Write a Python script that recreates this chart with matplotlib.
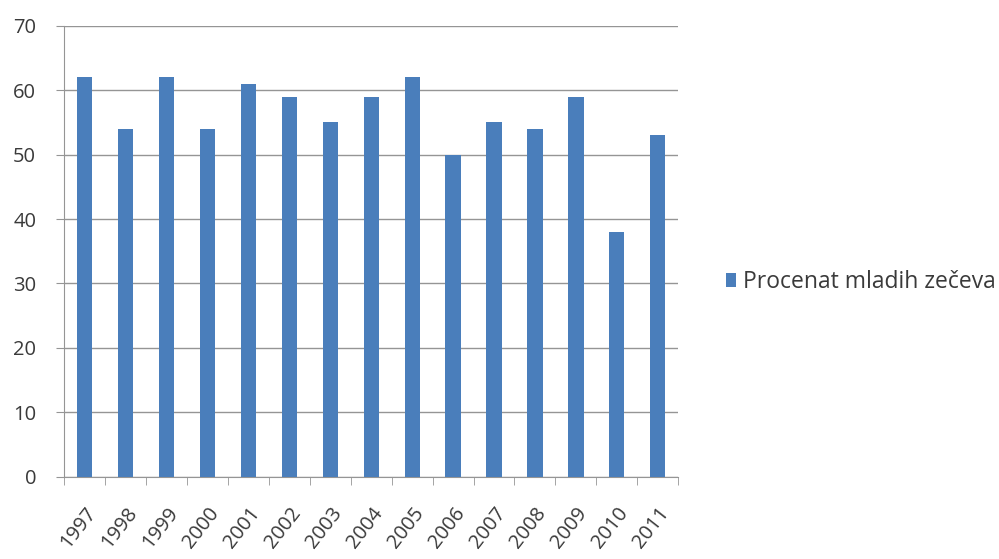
import numpy as np
import matplotlib.pyplot as plt
from matplotlib.patches import Patch

# podaci
years = ['1997', '1998', '1999', '2000', '2001', '2002', '2003', '2004',
         '2005', '2006', '2007', '2008', '2009', '2010', '2011']
values = [62, 54, 62, 54, 61, 59, 55, 59, 62, 50, 55, 54, 59, 38, 53]

bar_color = '#4a7ebb'
grid_color = '#959595'
text_color = '#3a3a3a'

plt.rcParams['font.family'] = ['Open Sans', 'DejaVu Sans']

fig = plt.figure(figsize=(9.99, 5.59), dpi=100)
ax = fig.add_axes([0.064, 0.147, 0.615, 0.807])

x = np.arange(len(years))
ax.bar(x, values, width=0.37, color=bar_color, zorder=3)

ax.set_xlim(-0.5, len(years) - 0.5)
ax.set_ylim(0, 70)
ax.set_yticks(range(0, 71, 10))
ax.yaxis.grid(True, color=grid_color, linewidth=1.0, zorder=0)

# kategorije: oznake u sredini, crtice na granicama
ax.set_xticks(x)
ax.set_xticklabels(years, rotation=52, ha='right', rotation_mode='anchor',
                   fontsize=14.5, color=text_color)
ax.set_xticks(np.arange(-0.5, len(years)), minor=True)
ax.tick_params(axis='x', which='major', length=0, pad=19)
ax.tick_params(axis='x', which='minor', length=6, color=grid_color)
ax.tick_params(axis='y', length=6, color=grid_color, labelsize=14.5,
               labelcolor=text_color, pad=14)

for s in ['top', 'right']:
    ax.spines[s].set_visible(False)
for s in ['left', 'bottom']:
    ax.spines[s].set_color(grid_color)

handles = [Patch(facecolor=bar_color, label='Procenat mladih zečeva')]
fig.legend(handles=handles, loc='center left', bbox_to_anchor=(0.706, 0.495),
           frameon=False, fontsize=16.5, handlelength=0.45, handleheight=0.55,
           handletextpad=0.3, labelcolor=text_color)

fig.savefig('out.png', dpi=100)
